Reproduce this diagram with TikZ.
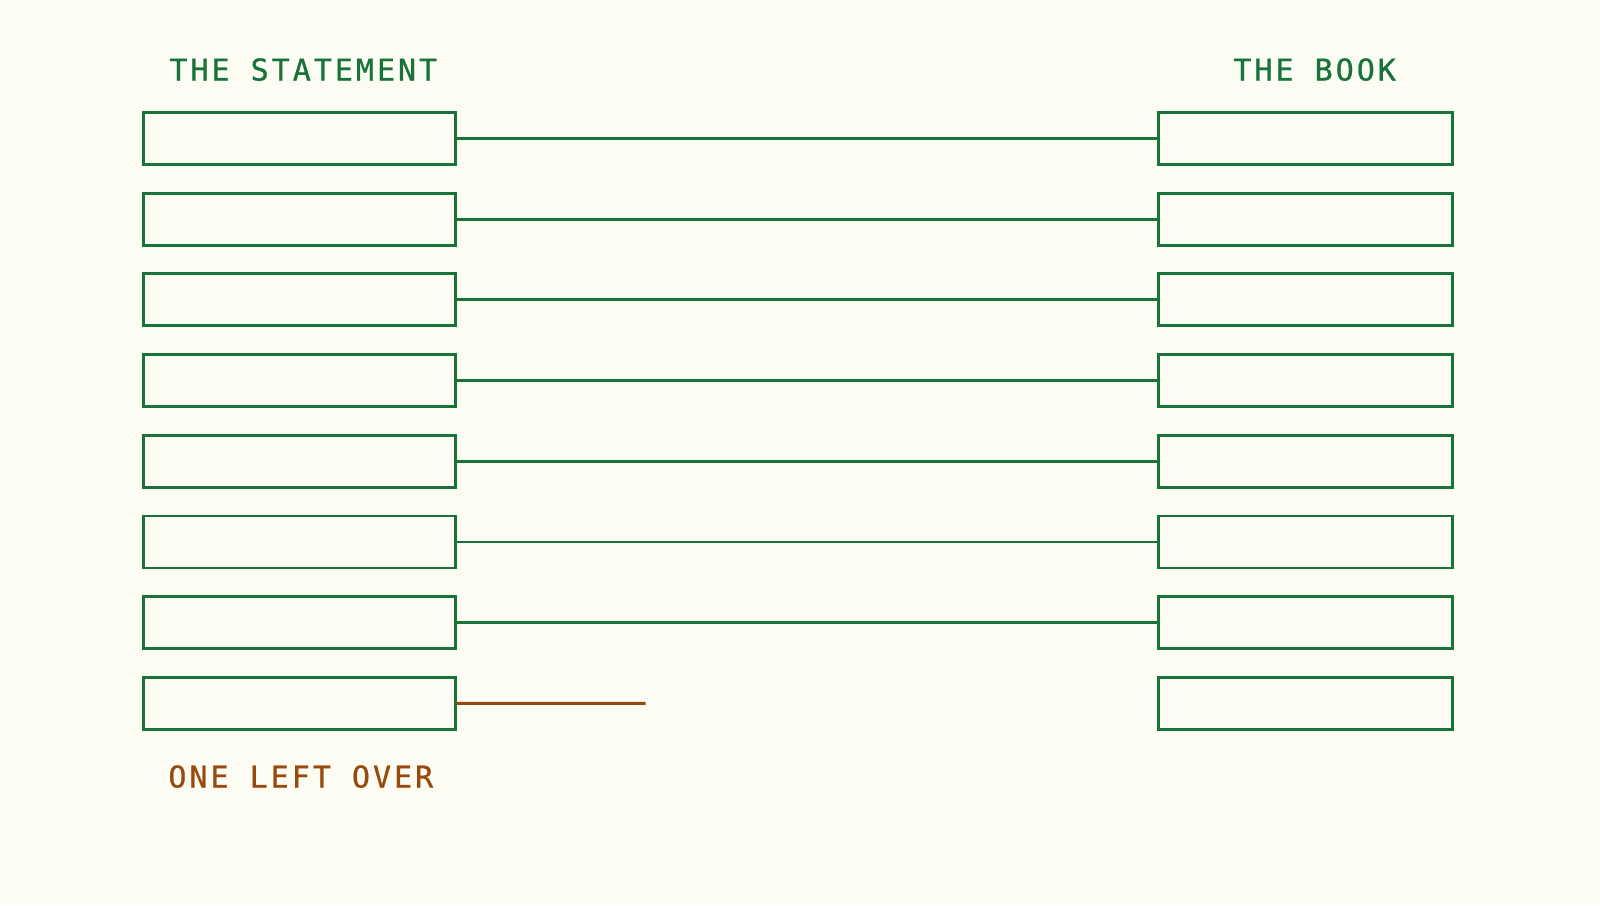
\documentclass[tikz,border=0pt]{standalone}
\usepackage{fontspec}
\setmonofont{DejaVu Sans Mono}
\newfontfamily\labelfont[LetterSpace=10,FakeBold=0.8]{DejaVu Sans Mono}
\usetikzlibrary{positioning}
\definecolor{paper}{HTML}{FDFCF3}
\definecolor{leafgreen}{HTML}{18733A}
\definecolor{rust}{HTML}{984A0E}

\begin{document}
\begin{tikzpicture}[line cap=butt,line join=miter,x=0.5pt,y=-0.5pt,
  slot/.style={draw=leafgreen,line width=1.45pt,inner sep=0pt,outer sep=0pt,minimum height=26pt},
  lhs/.style={slot,minimum width=156pt},
  rhs/.style={slot,minimum width=147pt},
  pair/.style={draw=leafgreen,line width=1.45pt},
  heading/.style={font=\labelfont\fontsize{15}{18}\selectfont,inner sep=0pt,anchor=base west}]
\fill[paper] (0,0) rectangle (1600,905);
\useasboundingbox (0,0) rectangle (1600,905);
\foreach \i in {1,...,8} {
  \node[lhs] (s\i) at (299.5,{138.5+80.7*(\i-1)}) {};
  \node[rhs] (b\i) at (1305.5,{138.5+80.7*(\i-1)}) {};
}
\foreach \i in {1,...,7}
  \draw[pair] (s\i.east) -- (b\i.west);
\coordinate (stub) at (645.5,703.4);
\draw[rust,line width=1.45pt] (s8.east) -- (stub);
\node[heading,text=leafgreen] (statement) at (169,80.5) {THE STATEMENT};
\node[heading,text=leafgreen] (book) at (1233,80.5) {THE BOOK};
\node[heading,text=rust] (left) at (168,787.5) {ONE LEFT OVER};
\end{tikzpicture}
\end{document}
